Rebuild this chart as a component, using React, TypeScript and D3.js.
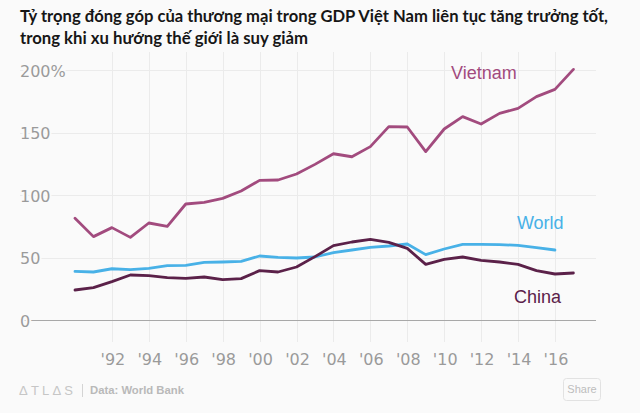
import React from "react";
import * as d3 from "d3";

const years = d3.range(1990, 2018);

const vietnam = [81.4, 66.7, 73.9, 66.1, 77.6, 74.9, 92.8, 94.1, 97.3, 103.2, 111.7, 112, 116.8, 124.5, 133, 130.6, 138.7, 154.7, 154.4, 134.7, 152.8, 162.7, 156.8, 165.3, 169.3, 178.7, 184.5, 200.5];
const world = [38.9, 38.4, 41, 40.3, 41.3, 43.5, 43.7, 46.1, 46.4, 46.9, 51.2, 50.1, 49.6, 50.4, 53.9, 56, 58.1, 59.2, 60.8, 52.3, 56.8, 60.5, 60.5, 60.3, 59.7, 57.9, 56];
const china = [24, 25.9, 30.7, 36, 35.5, 33.9, 33.3, 34.4, 32.3, 33.1, 39.5, 38.4, 42.4, 50.7, 59.5, 62.4, 64.5, 62.1, 57.3, 44.5, 48.5, 50.4, 47.7, 46.4, 44.5, 39.5, 36.8, 37.6];

const yTicks = [0, 50, 100, 150, 200];
const xTicks = d3.range(1992, 2017, 2);

const titleLines = [
  "Tỷ trọng đóng góp của thương mại trong GDP Việt Nam liên tục tăng trưởng tốt,",
  "trong khi xu hướng thế giới là suy giảm",
];

const series = [
  { name: "Vietnam", values: vietnam, color: "#a24b7e", labelYear: 2010.37, labelValue: 192.8 },
  { name: "World", values: world, color: "#48b1e7", labelYear: 2013.94, labelValue: 72.8 },
  { name: "China", values: china, color: "#5b2149", labelYear: 2013.78, labelValue: 13.6 },
];

const W = 640;
const H = 413;
const BG = "#fafafa";

export default function App() {
  const x = d3.scaleLinear().domain([1990, 2017]).range([75, 573.4]);
  const y = d3.scaleLinear().domain([0, 200]).range([320, 70]);
  const gridLeft = 20;
  const gridRight = 596;

  const line = d3
    .line<number>()
    .x((_, i) => x(years[i]))
    .y((d) => y(d))
    .curve(d3.curveLinear);

  return (
    <svg
      width={W}
      height={H}
      viewBox={`0 0 ${W} ${H}`}
      style={{ position: "absolute", left: 0, top: 0, background: BG }}
    >
      <rect x={0} y={0} width={W} height={H} fill={BG} />
      {/* title */}
      <g fontFamily="Lato, 'Noto Sans', sans-serif" fontWeight={700} fontSize={17} fill="#161616">
        <text x={20} y={22} textLength={588} lengthAdjust="spacingAndGlyphs">
          {titleLines[0]}
        </text>
        <text x={20} y={43.5} textLength={288} lengthAdjust="spacingAndGlyphs">
          {titleLines[1]}
        </text>
      </g>

      {/* vertical gridlines */}
      <g stroke="#ebebeb" strokeWidth={1}>
        {xTicks.map((t) => (
          <line key={t} x1={Math.round(x(t)) + 0.5} x2={Math.round(x(t)) + 0.5} y1={52} y2={342} />
        ))}
      </g>
      {/* horizontal gridlines */}
      <g>
        {yTicks.map((t) => (
          <line
            key={t}
            x1={gridLeft}
            x2={gridRight}
            y1={Math.round(y(t)) + 0.5}
            y2={Math.round(y(t)) + 0.5}
            stroke={t === 0 ? "#a8a8a8" : "#ebebeb"}
            strokeWidth={1}
          />
        ))}
      </g>
      {/* y labels */}
      <g fontFamily="'DejaVu Sans', sans-serif" fontSize={16} fill="#9a9a9a">
        {yTicks.map((t) => (
          <text
            key={t}
            x={20}
            y={y(t) + 6.5}
            stroke={BG}
            strokeWidth={4}
            paintOrder="stroke"
            strokeLinejoin="round"
          >
            {t === 200 ? "200%" : String(t)}
          </text>
        ))}
      </g>
      {/* x labels */}
      <g fontFamily="'DejaVu Sans', sans-serif" fontSize={16} fill="#9a9a9a" textAnchor="middle">
        {xTicks.map((t) => (
          <text key={t} x={x(t) + 1} y={365}>
            {"'" + String(t).slice(2)}
          </text>
        ))}
      </g>

      {/* lines */}
      <g fill="none" strokeWidth={2.8} strokeLinejoin="round" strokeLinecap="round">
        {series.map((s) => (
          <path key={s.name} d={line(s.values) || ""} stroke={s.color} />
        ))}
      </g>
      {/* series labels */}
      <g fontFamily="'Liberation Sans', Arial, sans-serif" fontSize={18}>
        {series.map((s) => (
          <text key={s.name} x={x(s.labelYear)} y={y(s.labelValue)} fill={s.color}>
            {s.name}
          </text>
        ))}
      </g>

      {/* footer */}
      <g fontFamily="'Liberation Sans', Arial, sans-serif">
        <text x={19} y={395} fontSize={13} fill="#c6c6c6" letterSpacing={3.2}>
          ΔTLΔS
        </text>
        <line x1={82.5} x2={82.5} y1={384} y2={397} stroke="#d4d4d4" strokeWidth={1} />
        <text x={90} y={394} fontSize={11.3} fill="#b9b9b9" fontWeight={700}>
          Data: World Bank
        </text>
        <rect x={563.5} y={378.5} width={37} height={22} rx={3} fill={BG} stroke="#e2e2e2" />
        <text x={582} y={393} fontSize={11} fill="#bdbdbd" textAnchor="middle">
          Share
        </text>
      </g>
    </svg>
  );
}
